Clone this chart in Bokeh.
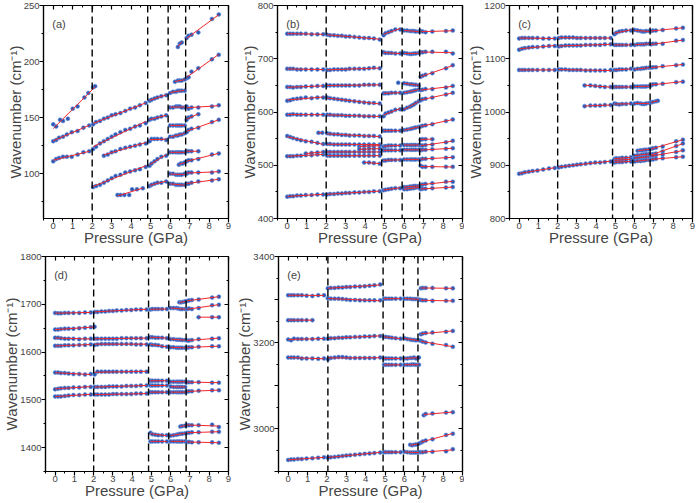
import numpy as np
from bokeh.plotting import figure
from bokeh.models import Span, Label, LinearAxis, SingleIntervalTicker, Range1d
from bokeh.layouts import column, row
from bokeh.embed import file_html
from bokeh.resources import INLINE

# Pressure grids (GPa) for the five phase regions
P_I = [0.0, 0.15, 0.3, 0.5, 0.7, 0.95, 1.25, 1.55, 1.85]
P_II = [2.05, 2.2, 2.4, 2.6, 2.8, 3.0, 3.2, 3.45, 3.7, 3.95, 4.2, 4.45, 4.75]
P_III = [4.95, 5.05, 5.2, 5.35, 5.55, 5.8]
P_IV = [6.0, 6.15, 6.3, 6.4, 6.5, 6.6, 6.75]
P_V = [6.85, 6.95, 7.1, 7.45, 8.15, 8.5]

# ---------------- panel (a): 60-250 cm-1 ----------------
a_I = [[129, 130, 132, 133, 135, 137, 138, 141, 143],
       [111, 113, 114, 115, 115, 115, 117, 119, 120]]
a_II = [[144, 146, 147, 149, 150, 152, 153, 154, 156, 158, 159, 161, 163],
        [122, 124, 127, 129, 131, 133, 135, 137, 139, 140, 142, 143, 145],
        [88, 89, 90, 92, 94, 96, 98, 99, 101, 102, 103, 104, 106]]
a_III = [[165, 166, 167, 168, 169, 170],
         [148, 149, 149, 150, 151, 152],
         [129, 131, 131, 131, 131, 130],
         [107, 109, 111, 113, 115, 116],
         [89, 90, 91, 92, 92, 93]]
a_IV = [[172, 173, 173, 174, 174, 174, 174],
        [159, 159, 160, 160, 160, 159, 159],
        [143, 143, 143, 143, 143, 143, 143],
        [133, 133, 134, 134, 135, 135, 136],
        [119, 119, 119, 119, 119, 119, 119],
        [100, 100, 99, 99, 99, 99, 100],
        [91, 91, 90, 90, 90, 90, 90]]
a_V = [[221, 223, 224, 226, 238, 242],
       [185, 186, 191, 194, 202, 206],
       [160, 158, 159, 159, 160, 161],
       [137, 139, 140, 141, 146, 148],
       [111, 112, 112, 113, 117, 118],
       [100, 101, 101, 101, 101, 102],
       [91, 91, 92, 93, 94, 95]]
a_extra = [([0.0, 0.15, 0.35, 0.5, 0.75, 1.0, 1.25, 1.6, 1.8, 2.05, 2.15],
            [144, 142, 148, 147, 149, 158, 160, 168, 172, 177, 178]),
           ([2.6, 2.8, 3.0, 3.2, 3.45, 3.7, 3.95, 4.2, 4.45, 4.75],
            [116, 117, 119, 120, 122, 123, 124, 125, 126, 127]),
           ([3.3, 3.45, 3.65, 3.9, 4.05, 4.3, 4.6], [81, 81, 81, 81, 86, 86, 87]),
           ([6.25, 6.4, 6.5, 6.6, 6.75], [182, 183, 183, 183, 184]),
           ([6.4, 6.5, 6.6], [213, 216, 217]),
           ([6.45, 6.55, 6.65, 6.75], [108, 109, 109, 110]),
           ([6.85, 6.95, 7.1, 7.45], [148, 150, 151, 153]),
           ([6.85, 6.95, 7.1, 7.45], [120, 120, 120, 120])]

# ---------------- panel (b): 400-800 cm-1 ----------------
b_I = [[747, 747, 747, 747, 747, 747, 746, 746, 746],
       [681, 681, 681, 680, 680, 680, 680, 680, 680],
       [647, 647, 646, 647, 647, 648, 648, 649, 649],
       [621, 622, 624, 625, 626, 627, 626, 627, 627],
       [595, 595, 596, 595, 595, 595, 595, 595, 595],
       [555, 553, 551, 549, 547, 545, 544, 542, 540],
       [517, 517, 517, 518, 518, 519, 519, 520, 520],
       [441, 442, 442, 443, 443, 444, 444, 445, 445]]
b_II = [[745, 744, 744, 743, 743, 742, 742, 741, 740, 739, 739, 738, 736],
        [679, 679, 680, 680, 680, 680, 681, 681, 681, 681, 682, 683, 682],
        [650, 650, 650, 650, 650, 650, 650, 650, 650, 651, 651, 651, 651],
        [627, 626, 625, 624, 623, 622, 621, 620, 619, 618, 617, 617, 616],
        [595, 595, 594, 594, 594, 593, 593, 593, 593, 592, 592, 592, 592],
        [560, 559, 558, 558, 557, 557, 556, 556, 556, 555, 555, 555, 554],
        [540, 540, 539, 539, 539, 539, 539, 539, 539, 539, 539, 539, 539],
        [525, 525, 525, 525, 525, 525, 525, 525, 525, 525, 525, 525, 525],
        [518, 518, 518, 518, 518, 518, 518, 518, 518, 518, 518, 518, 518],
        [445, 446, 446, 447, 447, 448, 448, 449, 449, 450, 450, 451, 451]]
b_III = [[744, 748, 750, 752, 755, 755],
         [712, 711, 711, 711, 710, 710],
         [635, 635, 635, 636, 636, 636],
         [592, 597, 599, 601, 604, 605],
         [565, 565, 565, 565, 565, 565],
         [535, 536, 537, 537, 537, 537],
         [528, 528, 528, 528, 528, 528],
         [509, 509, 510, 510, 510, 510],
         [453, 454, 455, 456, 457, 457]]
b_IV = [[753, 753, 752, 752, 752, 751, 751],
        [711, 710, 709, 709, 710, 710, 711],
        [654, 653, 652, 652, 651, 651, 650],
        [636, 637, 638, 639, 640, 641, 642],
        [605, 608, 610, 612, 614, 617, 620],
        [566, 567, 568, 569, 570, 571, 572],
        [538, 538, 538, 538, 538, 538, 538],
        [529, 529, 529, 529, 529, 529, 529],
        [511, 511, 511, 511, 511, 511, 511],
        [455, 455, 456, 457, 457, 458, 458],
        [459, 459, 460, 460, 461, 461, 461]]
b_V = [[752, 751, 750, 751, 752, 753],
       [712, 712, 713, 713, 713, 710],
       [666, 668, 670, 673, 682, 688],
       [641, 642, 643, 643, 646, 649],
       [622, 624, 625, 627, 633, 636],
       [573, 574, 575, 577, 583, 586],
       [537, 537, 538, 539, 543, 546],
       [528, 529, 529, 530, 531, 532],
       [511, 512, 512, 513, 514, 515],
       [499, 497, 497, 497, 497, 497],
       [462, 464, 465, 466, 469, 469],
       [455, 456, 456, 457, 458, 459]]
b_extra = [([0.95, 1.25, 1.55, 1.85], [522, 523, 524, 525]),
           ([1.6, 1.8], [561, 561]),
           ([3.7, 3.95, 4.2, 4.45, 4.75], [535, 536, 536, 536, 537]),
           ([3.7, 3.95, 4.2, 4.45, 4.75], [530, 530, 531, 531, 531]),
           ([3.95, 4.2, 4.45, 4.75], [505, 505, 504, 503]),
           ([5.7], [655]),
           ([6.85, 6.95, 7.1, 7.45], [548, 549, 549, 549])]

# ---------------- panel (c): 800-1200 cm-1 ----------------
c_I = [[1138, 1139, 1139, 1139, 1139, 1139, 1138, 1138, 1138],
       [1117, 1119, 1120, 1121, 1122, 1122, 1123, 1124, 1124],
       [1079, 1079, 1079, 1079, 1079, 1079, 1079, 1079, 1079],
       [884, 885, 887, 888, 889, 890, 892, 894, 895]]
c_II = [[1139, 1140, 1140, 1140, 1140, 1139, 1139, 1139, 1139, 1139, 1139, 1139, 1139],
        [1123, 1124, 1125, 1125, 1125, 1125, 1125, 1126, 1126, 1126, 1126, 1127, 1127],
        [1080, 1080, 1080, 1079, 1079, 1079, 1079, 1078, 1078, 1078, 1078, 1078, 1079],
        [896, 897, 898, 899, 900, 901, 902, 903, 904, 905, 905, 906, 907]]
c_III = [[1146, 1149, 1151, 1152, 1153, 1153],
         [1126, 1126, 1126, 1126, 1126, 1126],
         [1079, 1079, 1080, 1080, 1080, 1081],
         [1047, 1047, 1047, 1047, 1047, 1047],
         [1016, 1015, 1014, 1015, 1015, 1016],
         [912, 913, 913, 914, 914, 915],
         [909, 909, 910, 910, 911, 911],
         [905, 906, 906, 906, 907, 907]]
c_IV = [[1154, 1153, 1152, 1151, 1151, 1152, 1152],
        [1126, 1127, 1127, 1127, 1127, 1128, 1128],
        [1080, 1081, 1081, 1082, 1082, 1083, 1083],
        [1048, 1048, 1048, 1048, 1048, 1048, 1049],
        [1016, 1017, 1016, 1015, 1015, 1016, 1017],
        [918, 919, 919, 920, 920, 921, 921],
        [913, 914, 914, 915, 915, 916, 916],
        [907, 908, 908, 909, 909, 910, 910]]
c_V = [[1152, 1153, 1153, 1154, 1157, 1158],
       [1127, 1128, 1128, 1128, 1134, 1135],
       [1083, 1084, 1084, 1086, 1088, 1089],
       [1050, 1052, 1052, 1053, 1056, 1057],
       [931, 932, 933, 935, 945, 948],
       [920, 921, 922, 926, 936, 941],
       [917, 918, 919, 920, 925, 928],
       [911, 911, 912, 913, 915, 916]]
c_extra = [([3.4, 3.7, 3.95, 4.2, 4.45, 4.75], [1050, 1050, 1049, 1048, 1047, 1047]),
           ([3.4, 3.7, 3.95, 4.2, 4.45, 4.75], [1011, 1012, 1012, 1012, 1013, 1013]),
           ([6.15, 6.3, 6.4, 6.5, 6.6, 6.75], [927, 928, 928, 929, 929, 930]),
           ([6.85, 6.95, 7.1, 7.2], [1018, 1019, 1020, 1021])]

# ---------------- panel (d): 1350-1800 cm-1 ----------------
d_I = [[1682, 1681, 1681, 1682, 1682, 1682, 1682, 1683, 1683],
       [1630, 1630, 1629, 1628, 1628, 1628, 1627, 1628, 1628],
       [1613, 1613, 1613, 1614, 1614, 1614, 1615, 1615, 1616],
       [1557, 1557, 1556, 1556, 1555, 1554, 1554, 1553, 1554],
       [1522, 1523, 1524, 1525, 1525, 1526, 1526, 1527, 1527],
       [1507, 1507, 1507, 1508, 1509, 1510, 1510, 1511, 1511]]
d_II = [[1684, 1684, 1685, 1685, 1686, 1686, 1687, 1687, 1688, 1688, 1689, 1689, 1689],
        [1628, 1628, 1628, 1628, 1628, 1628, 1628, 1629, 1629, 1629, 1629, 1629, 1629],
        [1615, 1616, 1617, 1617, 1617, 1617, 1617, 1617, 1617, 1617, 1616, 1616, 1616],
        [1553, 1559, 1559, 1559, 1559, 1559, 1559, 1559, 1559, 1559, 1559, 1559, 1559],
        [1527, 1527, 1527, 1527, 1528, 1528, 1528, 1528, 1529, 1529, 1529, 1530, 1530],
        [1511, 1511, 1511, 1511, 1511, 1512, 1512, 1512, 1512, 1512, 1513, 1513, 1513]]
d_III = [[1689, 1690, 1690, 1690, 1690, 1690],
         [1631, 1631, 1630, 1630, 1630, 1629],
         [1616, 1615, 1615, 1614, 1612, 1611],
         [1540, 1540, 1540, 1540, 1540, 1540],
         [1530, 1530, 1530, 1530, 1530, 1530],
         [1516, 1516, 1516, 1516, 1516, 1516],
         [1431, 1428, 1427, 1426, 1426, 1426],
         [1413, 1413, 1413, 1413, 1413, 1413]]
d_IV = [[1692, 1692, 1692, 1691, 1690, 1690, 1690],
        [1627, 1627, 1626, 1626, 1626, 1625, 1625],
        [1610, 1610, 1609, 1609, 1609, 1609, 1609],
        [1538, 1538, 1538, 1538, 1538, 1538, 1538],
        [1528, 1527, 1527, 1527, 1527, 1527, 1527],
        [1516, 1516, 1516, 1516, 1516, 1516, 1516],
        [1425, 1426, 1427, 1428, 1429, 1429, 1430],
        [1413, 1413, 1413, 1413, 1413, 1413, 1413]]
d_V = [[1707, 1708, 1709, 1710, 1714, 1716],
       [1690, 1691, 1690, 1692, 1698, 1699],
       [1624, 1624, 1625, 1627, 1628, 1629],
       [1609, 1610, 1610, 1611, 1612, 1612],
       [1537, 1537, 1537, 1537, 1536, 1536],
       [1517, 1518, 1518, 1519, 1520, 1520],
       [1447, 1447, 1447, 1447, 1448, 1443],
       [1431, 1431, 1432, 1432, 1433, 1433],
       [1412, 1412, 1411, 1411, 1411, 1410]]
d_extra = [(P_I + [2.05], [1647, 1647, 1648, 1649, 1649, 1649, 1650, 1651, 1652, 1653]),
           ([6.45, 6.55, 6.65, 6.75], [1704, 1704, 1705, 1706]),
           ([6.5, 6.6, 6.75], [1444, 1445, 1446]),
           ([7.45, 8.15, 8.5], [1673, 1673, 1673])]

# ---------------- panel (e): 2900-3400 cm-1 ----------------
e_I = [[3310, 3310, 3310, 3310, 3310, 3309, 3308, 3310, 3310],
       [3207, 3205, 3209, 3208, 3208, 3208, 3208, 3209, 3209],
       [3165, 3165, 3165, 3165, 3163, 3163, 3163, 3162, 3163],
       [2927, 2928, 2928, 2929, 2929, 2930, 2931, 2932, 2933]]
e_II = [[3326, 3327, 3327, 3328, 3328, 3329, 3329, 3330, 3330, 3331, 3332, 3333, 3335],
        [3303, 3302, 3302, 3302, 3301, 3300, 3299, 3299, 3298, 3298, 3298, 3298, 3298],
        [3209, 3210, 3210, 3211, 3211, 3212, 3212, 3213, 3213, 3214, 3214, 3215, 3215],
        [3161, 3164, 3165, 3166, 3166, 3165, 3164, 3164, 3164, 3164, 3164, 3164, 3165],
        [2932, 2933, 2934, 2935, 2936, 2937, 2938, 2939, 2940, 2941, 2942, 2943, 2944]]
e_III = [[3302, 3302, 3302, 3302, 3302, 3302],
         [3213, 3213, 3212, 3211, 3210, 3209],
         [3163, 3163, 3163, 3163, 3163, 3163],
         [3148, 3148, 3148, 3148, 3148, 3148],
         [2945, 2945, 2945, 2945, 2945, 2945]]
e_IV = [[3302, 3302, 3302, 3301, 3301, 3301, 3300],
        [3210, 3208, 3207, 3206, 3206, 3205, 3205],
        [3163, 3163, 3164, 3164, 3165, 3163, 3165],
        [3148, 3148, 3148, 3149, 3149, 3148, 3148],
        [2946, 2945, 2944, 2944, 2944, 2944, 2945]]
e_V = [[3326, 3327, 3327, 3327, 3326, 3326],
       [3299, 3298, 3298, 3297, 3297, 3297],
       [3219, 3221, 3222, 3223, 3225, 3227],
       [3204, 3202, 3200, 3197, 3194, 3190],
       [2967, 2970, 2972, 2975, 2985, 2988],
       [2945, 2945, 2946, 2946, 2947, 2952]]
e_extra = [([0.0, 0.15, 0.3, 0.5, 0.7, 0.95, 1.25], [3252, 3252, 3252, 3252, 3252, 3252, 3252]),
           ([6.3, 6.4, 6.5, 6.6, 6.75], [2962, 2961, 2962, 2963, 2965]),
           ([7.0, 7.1, 7.45, 8.15, 8.5], [3031, 3034, 3035, 3037, 3038])]

# Phase boundaries (GPa) drawn as dashed lines
bounds_abcd = [2.0, 4.85, 5.9, 6.8]
bounds_e = [2.05, 4.9, 5.95, 6.7]

FONT = "Liberation Sans"
BLUE_FILL = "#2B58B4"
BLUE_EDGE = "#6A94E0"
RED = "#F2262B"


def panel(tag, ylim, ystep, phases, extras, bounds, width, height,
          left, right, top, bottom, hide_labels=()):
    p = figure(width=width, height=height, x_range=Range1d(-0.5, 9),
               y_range=Range1d(*ylim), output_backend="svg",
               toolbar_location=None, min_border_left=left,
               min_border_right=right, min_border_top=top,
               min_border_bottom=bottom, background_fill_color="white",
               border_fill_color="white", outline_line_color="black",
               outline_line_width=1.2)
    p.grid.visible = False

    segments = []
    for grid, rows in phases:
        for vals in rows:
            segments.append((grid, vals))
    segments.extend(extras)

    for b in bounds:
        p.add_layout(Span(location=b, dimension="height", line_color="black",
                          line_width=1.4, line_dash="7 4"))

    for xs, ys in segments:
        p.scatter(xs, ys, size=4, marker="circle", fill_color=BLUE_FILL,
                  line_color=BLUE_EDGE, line_width=0.6)
    for xs, ys in segments:
        if len(xs) < 2:
            continue
        k, c = np.polyfit(xs, ys, 1)
        x0, x1 = min(xs), max(xs)
        p.line([x0, x1], [k * x0 + c, k * x1 + c], line_color=RED, line_width=1)

    xt = SingleIntervalTicker(interval=1, num_minor_ticks=2)
    yt = SingleIntervalTicker(interval=ystep, num_minor_ticks=2)
    p.xaxis.ticker = xt
    p.yaxis.ticker = yt
    for ax in (p.xaxis[0], p.yaxis[0]):
        ax.axis_line_width = 1.2
        ax.major_tick_line_width = 1.2
        ax.major_tick_out = 4
        ax.major_tick_in = 0
        ax.minor_tick_out = 2
        ax.minor_tick_in = 0
        ax.major_label_text_font = FONT
        ax.major_label_text_font_size = "9.5px"
        ax.major_label_standoff = 0
        ax.axis_label_text_font = FONT
        ax.axis_label_text_font_size = "15px"
        ax.axis_label_text_font_style = "normal"
        ax.axis_label_standoff = -3
    p.xaxis.axis_label = "Pressure (GPa)"
    p.yaxis.axis_label = "Wavenumber (cm\u207b\u00b9)"
    if hide_labels:
        p.yaxis.major_label_overrides = {v: "" for v in hide_labels}

    # mirrored inward ticks on top and right, no labels
    for side, tick in (("above", xt), ("right", yt)):
        ax = LinearAxis(ticker=tick, major_tick_in=4, major_tick_out=0,
                        minor_tick_in=2, minor_tick_out=0,
                        major_label_text_color=None,
                        major_label_text_font_size="1px",
                        major_label_standoff=0, axis_line_width=1.2,
                        major_tick_line_width=1.2)
        p.add_layout(ax, side)

    span = ylim[1] - ylim[0]
    p.add_layout(Label(x=-0.05, y=ylim[1] - 0.085 * span, text=tag,
                       text_font=FONT, text_font_size="11px",
                       text_baseline="middle"))
    return p


pa = panel("(a)", (60, 250), 50,
           [(P_I, a_I), (P_II, a_II), (P_III, a_III), (P_IV, a_IV), (P_V, a_V)],
           a_extra, bounds_abcd, 232, 250, 43, 4, 5, 32)
pb = panel("(b)", (400, 800), 100,
           [(P_I, b_I), (P_II, b_II), (P_III, b_III), (P_IV, b_IV), (P_V, b_V)],
           b_extra, bounds_abcd, 232, 250, 45, 2, 5, 32)
pc = panel("(c)", (800, 1200), 100,
           [(P_I, c_I), (P_II, c_II), (P_III, c_III), (P_IV, c_IV), (P_V, c_V)],
           c_extra, bounds_abcd, 232, 250, 45, 4, 5, 32)
pd = panel("(d)", (1350, 1800), 100,
           [(P_I, d_I), (P_II, d_II), (P_III, d_III), (P_IV, d_IV), (P_V, d_V)],
           d_extra, bounds_abcd, 232, 253, 43, 4, 6, 32)
pe = panel("(e)", (2900, 3400), 100,
           [(P_I, e_I), (P_II, e_II), (P_III, e_III), (P_IV, e_IV), (P_V, e_V)],
           e_extra, bounds_e, 232, 253, 46, 2, 6, 32,
           hide_labels=(2900, 3100, 3300))

layout = column(row(pa, pb, pc), row(pd, pe))
open("out.html", "w").write(file_html(layout, INLINE))
